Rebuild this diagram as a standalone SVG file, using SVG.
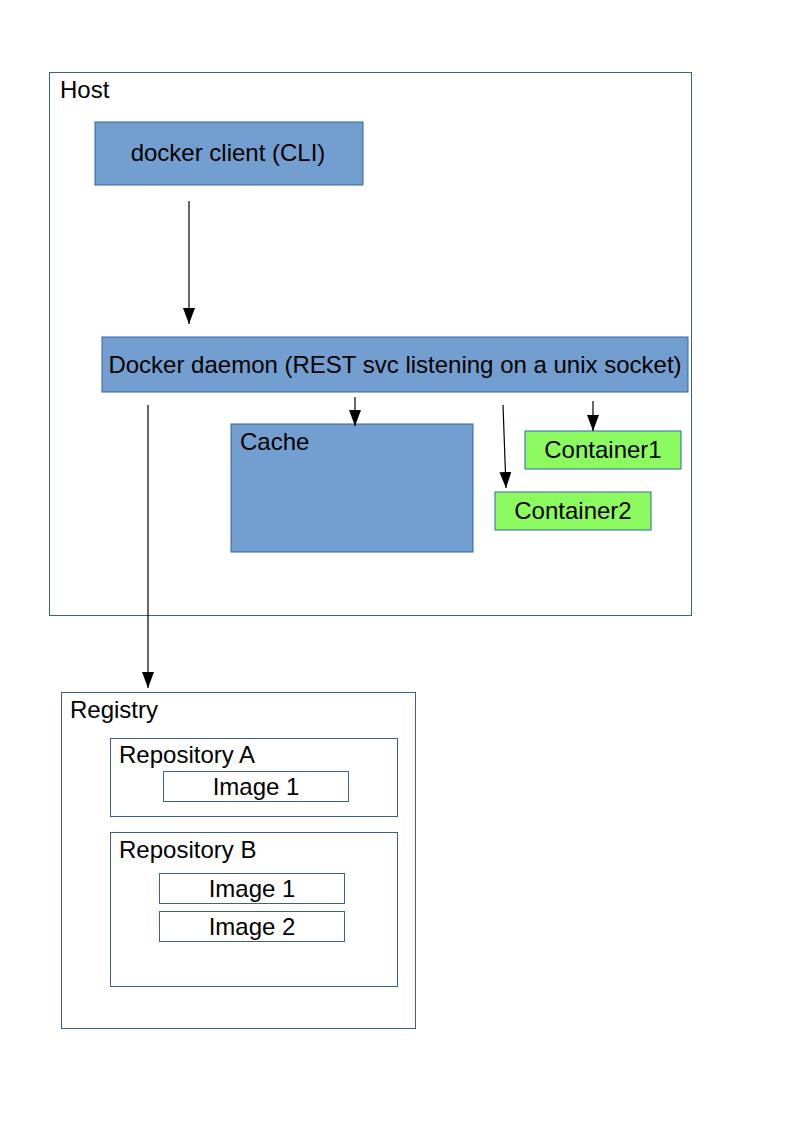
<svg xmlns="http://www.w3.org/2000/svg" width="794" height="1123" viewBox="0 0 794 1123">
<defs>
<style>
text{font-family:"Liberation Sans",Arial,sans-serif;font-size:24px;fill:#000}
.frame{fill:#fff;stroke:#3d5f8c;stroke-width:1}
.blue{fill:#729fcf;stroke:#3465a4;stroke-width:1}
.green{fill:#8cfb5f;stroke:#3465a4;stroke-width:1}
.conn line{stroke:#000;stroke-width:1.2;fill:none}
.c{text-anchor:middle}
</style>
<marker id="ah" viewBox="0 0 16 12" refX="16" refY="6" markerWidth="16" markerHeight="12" markerUnits="userSpaceOnUse" orient="auto">
<path d="M0,0 L16,6 L0,12 z" fill="#000"/>
</marker>
</defs>
<rect width="794" height="1123" fill="#fff"/>
<g id="host">
<rect class="frame" x="49.5" y="72.5" width="642" height="543"/>
<text x="60" y="98">Host</text>
</g>
<g id="client">
<rect class="blue" x="95" y="122" width="268" height="63"/>
<text class="c" x="228" y="161">docker client (CLI)</text>
</g>
<g id="daemon">
<rect class="blue" x="102" y="337" width="586" height="55"/>
<text class="c" x="395" y="373">Docker daemon (REST svc listening on a unix socket)</text>
</g>
<g id="cache">
<rect class="blue" x="231" y="424" width="242" height="128"/>
<text x="240" y="450">Cache</text>
</g>
<g id="container1">
<rect class="green" x="525" y="431" width="156" height="38"/>
<text class="c" x="603" y="458">Container1</text>
</g>
<g id="container2">
<rect class="green" x="495" y="492" width="156" height="38"/>
<text class="c" x="573" y="519">Container2</text>
</g>
<g id="registry">
<rect class="frame" x="61.5" y="692.5" width="354" height="336"/>
<text x="70" y="718">Registry</text>
</g>
<g id="repoA">
<rect class="frame" x="110.5" y="738.5" width="287" height="78"/>
<text x="119" y="763">Repository A</text>
</g>
<g id="imageA1">
<rect class="frame" x="163.5" y="771.5" width="185" height="30"/>
<text class="c" x="256" y="795">Image 1</text>
</g>
<g id="repoB">
<rect class="frame" x="110.5" y="832.5" width="287" height="154"/>
<text x="119" y="858">Repository B</text>
</g>
<g id="imageB1">
<rect class="frame" x="159.5" y="873.5" width="185" height="30"/>
<text class="c" x="252" y="897">Image 1</text>
</g>
<g id="imageB2">
<rect class="frame" x="159.5" y="911.5" width="185" height="30"/>
<text class="c" x="252" y="935">Image 2</text>
</g>
<g id="connectors" class="conn">
<line x1="189" y1="201" x2="189" y2="324" marker-end="url(#ah)"/>
<line x1="355" y1="397" x2="355" y2="426" marker-end="url(#ah)"/>
<line x1="503" y1="405" x2="506" y2="488" marker-end="url(#ah)"/>
<line x1="593" y1="401" x2="593" y2="431" marker-end="url(#ah)"/>
<line x1="148" y1="405" x2="148" y2="688" marker-end="url(#ah)"/>
</g>
</svg>
